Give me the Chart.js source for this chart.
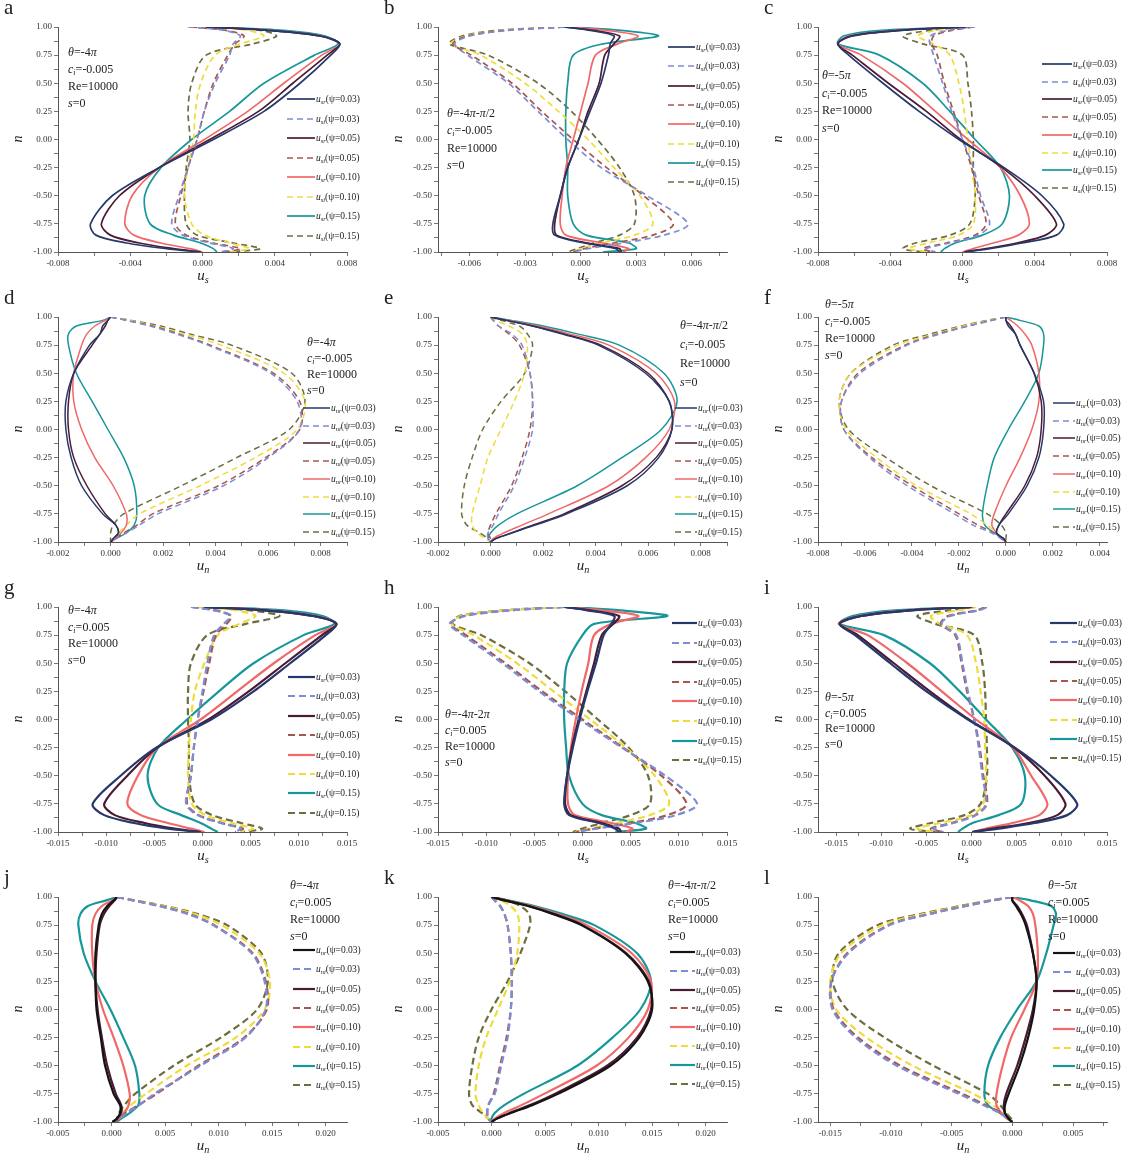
<!DOCTYPE html>
<html>
<head>
<meta charset="utf-8">
<script src="https://cdn.jsdelivr.net/npm/chart.js@4.4.1/dist/chart.umd.min.js"></script>
<style>
body { margin: 0; width: 1140px; height: 1153px; background: #fff; position: relative; overflow: hidden;
       font-family: "Liberation Serif", "Times New Roman", serif; color: #222; }
.cell { position: absolute; width: 380px; height: 290px; }
.cell canvas { position: absolute; left: 0; top: 0; }
.tag { position: absolute; font-size: 21px; line-height: 1; }
.note { position: absolute; font-size: 12px; line-height: 1; white-space: nowrap; }
.leg { position: absolute; font-size: 9.5px; line-height: 12px; height: 12px; white-space: nowrap; display: flex; align-items: center; }
.leg svg { display: block; margin-right: 1px; }
.xt { position: absolute; font-size: 15px; line-height: 1; transform: translate(-50%, -50%); white-space: nowrap; }
.yt { position: absolute; font-size: 14px; line-height: 1; transform: translate(-50%, -50%) rotate(-90deg); }
sub { font-size: 68%; vertical-align: -0.3em; line-height: 0; font-style: italic; }
</style>
</head>
<body>
<script>
// shared wall-normal coordinate n (y axis) for every profile
const nLevels = [1, 0.97, 0.92, 0.85, 0.75, 0.5, 0.25, 0, -0.25, -0.5, -0.75, -0.85, -0.92, -0.97, -1];
const psiLabels = ['0.03', '0.05', '0.10', '0.15'];

// a: u_s, theta=-4pi, ci=-0.005
const aR03 = [0.0002, 0.0036, 0.0065, 0.0076, 0.0071, 0.0054, 0.0034, 0.0006, -0.0024, -0.0050, -0.0062, -0.0059, -0.0042, -0.0020, -0.0001];
const aI03 = [-0.0008, 0.0012, 0.0021, 0.0017, 0.0015, 0.0007, 0.0001, -0.0003, -0.0008, -0.0013, -0.0017, -0.0011, 0.0004, 0.0017, 0.0010];
const aR05 = [0.0002, 0.0036, 0.0065, 0.0076, 0.0069, 0.0050, 0.0031, 0.0004, -0.0024, -0.0046, -0.0056, -0.0051, -0.0035, -0.0016, -0.0001];
const aI05 = [-0.0006, 0.0013, 0.0023, 0.0018, 0.0014, 0.0006, 0.0001, -0.0003, -0.0008, -0.0012, -0.0015, -0.0009, 0.0006, 0.0021, 0.0012];
const aR10 = [0.0003, 0.0038, 0.0066, 0.0076, 0.0066, 0.0045, 0.0025, 0.0001, -0.0024, -0.0039, -0.0043, -0.0038, -0.0023, -0.0007, 0.0000];
const aI10 = [-0.0001, 0.0025, 0.0034, 0.0021, 0.0007, -0.0001, -0.0004, -0.0005, -0.0008, -0.0010, -0.0006, 0.0001, 0.0015, 0.0026, 0.0013];
const aR15 = [0.0006, 0.0045, 0.0068, 0.0075, 0.0062, 0.0034, 0.0015, -0.0006, -0.0023, -0.0032, -0.0029, -0.0016, -0.0001, 0.0006, 0.0008];
const aI15 = [0.0002, 0.0032, 0.0041, 0.0028, 0.0002, -0.0006, -0.0008, -0.0007, -0.0009, -0.0010, -0.0009, -0.0003, 0.0017, 0.0032, 0.0015];

// b: u_s, theta=-4pi-pi/2, ci=-0.005
const bR03 = [-0.0009, 0.0005, 0.0018, 0.0016, 0.0015, 0.0011, 0.0005, -0.0001, -0.0007, -0.0011, -0.0015, -0.0014, 0.0002, 0.0019, 0.0021];
const bI03 = [-0.0009, -0.0039, -0.0060, -0.0068, -0.0061, -0.0039, -0.0023, -0.0007, 0.0011, 0.0036, 0.0058, 0.0045, 0.0023, 0.0004, -0.0004];
const bR05 = [-0.0008, 0.0007, 0.0021, 0.0018, 0.0013, 0.0010, 0.0004, -0.0001, -0.0007, -0.0011, -0.0014, -0.0013, 0.0004, 0.0021, 0.0022];
const bI05 = [-0.0009, -0.0040, -0.0061, -0.0069, -0.0059, -0.0037, -0.0021, -0.0004, 0.0014, 0.0034, 0.0050, 0.0039, 0.0018, 0.0002, -0.0004];
const bR10 = [-0.0007, 0.0014, 0.0031, 0.0020, 0.0008, 0.0004, 0.0000, -0.0004, -0.0008, -0.0010, -0.0011, -0.0008, 0.0012, 0.0026, 0.0023];
const bI10 = [-0.0009, -0.0042, -0.0062, -0.0070, -0.0054, -0.0030, -0.0012, 0.0004, 0.0018, 0.0032, 0.0039, 0.0029, 0.0011, 0.0000, -0.0004];
const bR15 = [-0.0006, 0.0022, 0.0042, 0.0012, -0.0004, -0.0007, -0.0008, -0.0008, -0.0007, -0.0007, -0.0004, 0.0003, 0.0026, 0.0030, 0.0012];
const bI15 = [-0.0009, -0.0045, -0.0064, -0.0071, -0.0050, -0.0023, -0.0005, 0.0009, 0.0021, 0.0029, 0.0029, 0.0021, 0.0007, -0.0002, -0.0007];

// c: u_s, theta=-5pi, ci=-0.005
const cR03 = [0.0002, -0.0035, -0.0062, -0.0069, -0.0063, -0.0044, -0.0024, -0.0002, 0.0023, 0.0044, 0.0056, 0.0052, 0.0033, 0.0015, 0.0002];
const cI03 = [0.0007, -0.0008, -0.0018, -0.0018, -0.0016, -0.0011, -0.0006, 0.0000, 0.0006, 0.0010, 0.0015, 0.0009, -0.0007, -0.0020, -0.0015];
const cR05 = [0.0001, -0.0034, -0.0061, -0.0069, -0.0061, -0.0041, -0.0020, -0.0001, 0.0022, 0.0040, 0.0052, 0.0046, 0.0030, 0.0013, 0.0001];
const cI05 = [0.0006, -0.0006, -0.0016, -0.0017, -0.0014, -0.0010, -0.0005, 0.0000, 0.0005, 0.0009, 0.0013, 0.0007, -0.0009, -0.0022, -0.0017];
const cR10 = [0.0002, -0.0036, -0.0063, -0.0069, -0.0056, -0.0033, -0.0015, 0.0003, 0.0021, 0.0032, 0.0037, 0.0031, 0.0017, 0.0006, 0.0000];
const cI10 = [0.0006, -0.0014, -0.0025, -0.0016, -0.0007, -0.0002, 0.0001, 0.0003, 0.0005, 0.0007, 0.0006, -0.0002, -0.0019, -0.0030, -0.0018];
const cR15 = [0.0004, -0.0045, -0.0066, -0.0069, -0.0046, -0.0022, -0.0007, 0.0007, 0.0021, 0.0026, 0.0022, 0.0011, -0.0004, -0.0010, -0.0012];
const cI15 = [0.0005, -0.0018, -0.0033, -0.0022, 0.0000, 0.0003, 0.0005, 0.0006, 0.0006, 0.0007, 0.0004, -0.0007, -0.0026, -0.0033, -0.0022];

// d: u_n, theta=-4pi, ci=-0.005
const dR03 = [0, -0.0001, -0.0003, -0.0004, -0.0008, -0.0014, -0.0017, -0.0017, -0.0015, -0.0011, -0.0003, 0.0002, 0.0003, 0.0001, 0];
const dI03 = [0, 0.0006, 0.0015, 0.0025, 0.0037, 0.0061, 0.0071, 0.0072, 0.0060, 0.0043, 0.0018, 0.0011, 0.0006, 0.0002, 0];
const dR05 = [0, -0.0001, -0.0002, -0.0004, -0.0007, -0.0014, -0.0016, -0.0016, -0.0014, -0.0009, -0.0002, 0.0002, 0.0003, 0.0001, 0];
const dI05 = [0, 0.0006, 0.0016, 0.0026, 0.0038, 0.0062, 0.0072, 0.0072, 0.0059, 0.0041, 0.0016, 0.0010, 0.0005, 0.0002, 0];
const dR10 = [0, -0.0002, -0.0006, -0.0009, -0.0011, -0.0014, -0.0014, -0.0011, -0.0006, 0.0001, 0.0006, 0.0006, 0.0004, 0.0002, 0];
const dI10 = [0, 0.0007, 0.0017, 0.0028, 0.0042, 0.0066, 0.0074, 0.0071, 0.0055, 0.0034, 0.0011, 0.0006, 0.0003, 0.0001, 0];
const dR15 = [0, -0.0003, -0.0013, -0.0016, -0.0016, -0.0013, -0.0007, -0.0001, 0.0005, 0.0009, 0.0010, 0.0009, 0.0006, 0.0002, 0];
const dI15 = [0, 0.0008, 0.0019, 0.0030, 0.0046, 0.0069, 0.0074, 0.0068, 0.0048, 0.0027, 0.0005, 0.0001, 0.0000, 0.0000, 0];

// e: u_n, theta=-4pi-pi/2, ci=-0.005
const eR03 = [0, 0.0006, 0.0016, 0.0027, 0.0041, 0.0059, 0.0068, 0.0069, 0.0064, 0.0052, 0.0029, 0.0017, 0.0008, 0.0002, 0];
const eI03 = [0, 0.0001, 0.0003, 0.0008, 0.0012, 0.0015, 0.0016, 0.0016, 0.0013, 0.0009, 0.0003, 0.0001, -0.0001, -0.0001, 0];
const eR05 = [0, 0.0006, 0.0016, 0.0028, 0.0042, 0.0060, 0.0068, 0.0069, 0.0063, 0.0050, 0.0028, 0.0016, 0.0008, 0.0002, 0];
const eI05 = [0, 0.0001, 0.0003, 0.0007, 0.0011, 0.0015, 0.0016, 0.0015, 0.0012, 0.0008, 0.0002, 0.0000, -0.0001, 0.0000, 0];
const eR10 = [0, 0.0007, 0.0018, 0.0030, 0.0045, 0.0063, 0.0070, 0.0068, 0.0059, 0.0045, 0.0022, 0.0012, 0.0005, 0.0001, 0];
const eI10 = [0, 0.0002, 0.0007, 0.0012, 0.0014, 0.0013, 0.0009, 0.0004, -0.0001, -0.0004, -0.0007, -0.0007, -0.0005, -0.0002, 0];
const eR15 = [0, 0.0008, 0.0020, 0.0033, 0.0049, 0.0066, 0.0071, 0.0065, 0.0050, 0.0033, 0.0010, 0.0003, 0.0000, -0.0001, 0];
const eI15 = [0, 0.0004, 0.0011, 0.0014, 0.0016, 0.0013, 0.0004, -0.0003, -0.0007, -0.0010, -0.0011, -0.0009, -0.0004, -0.0001, 0];

// f: u_n, theta=-5pi, ci=-0.005
const fR03 = [0, 0.0000, 0.0001, 0.0004, 0.0006, 0.0012, 0.0016, 0.0016, 0.0014, 0.0009, 0.0001, -0.0003, -0.0004, -0.0001, 0];
const fI03 = [0, -0.0006, -0.0016, -0.0028, -0.0042, -0.0062, -0.0070, -0.0069, -0.0058, -0.0042, -0.0022, -0.0014, -0.0006, -0.0002, 0];
const fR05 = [0, 0.0000, 0.0002, 0.0004, 0.0006, 0.0012, 0.0015, 0.0015, 0.0013, 0.0008, 0.0000, -0.0003, -0.0004, -0.0001, 0];
const fI05 = [0, -0.0006, -0.0016, -0.0029, -0.0043, -0.0063, -0.0070, -0.0069, -0.0057, -0.0040, -0.0020, -0.0012, -0.0005, -0.0002, 0];
const fR10 = [0, 0.0002, 0.0005, 0.0008, 0.0011, 0.0014, 0.0014, 0.0011, 0.0006, 0.0000, -0.0005, -0.0006, -0.0004, -0.0002, 0];
const fI10 = [0, -0.0007, -0.0018, -0.0030, -0.0046, -0.0066, -0.0071, -0.0068, -0.0055, -0.0038, -0.0015, -0.0008, -0.0004, -0.0001, 0];
const fR15 = [0, 0.0006, 0.0014, 0.0016, 0.0016, 0.0014, 0.0008, 0.0001, -0.0005, -0.0008, -0.0010, -0.0009, -0.0005, -0.0001, 0];
const fI15 = [0, -0.0008, -0.0019, -0.0032, -0.0048, -0.0066, -0.0071, -0.0067, -0.0051, -0.0032, -0.0008, -0.0002, 0.0000, 0.0000, 0];

// g: u_s, theta=-4pi, ci=0.005
const gR03 = [0.0002, 0.0065, 0.0115, 0.0139, 0.0128, 0.0091, 0.0053, 0.0009, -0.0048, -0.0085, -0.0114, -0.0102, -0.0071, -0.0036, -0.0002];
const gI03 = [-0.0012, 0.0012, 0.0029, 0.0022, 0.0012, 0.0005, 0.0000, -0.0005, -0.0009, -0.0012, -0.0017, -0.0005, 0.0019, 0.0040, 0.0033];
const gR05 = [0.0002, 0.0065, 0.0115, 0.0139, 0.0124, 0.0086, 0.0048, 0.0006, -0.0047, -0.0078, -0.0102, -0.0091, -0.0060, -0.0029, -0.0002];
const gI05 = [-0.0011, 0.0014, 0.0030, 0.0025, 0.0014, 0.0007, 0.0001, -0.0005, -0.0009, -0.0012, -0.0016, -0.0004, 0.0020, 0.0042, 0.0034];
const gR10 = [0.0004, 0.0070, 0.0118, 0.0139, 0.0117, 0.0074, 0.0036, -0.0002, -0.0047, -0.0067, -0.0078, -0.0064, -0.0036, -0.0012, 0.0002];
const gI10 = [-0.0005, 0.0035, 0.0055, 0.0038, 0.0016, 0.0002, -0.0008, -0.0012, -0.0014, -0.0015, -0.0011, 0.0003, 0.0030, 0.0052, 0.0040];
const gR15 = [0.0012, 0.0085, 0.0125, 0.0137, 0.0105, 0.0053, 0.0017, -0.0016, -0.0046, -0.0057, -0.0047, -0.0022, -0.0002, 0.0009, 0.0016];
const gI15 = [0.0000, 0.0050, 0.0080, 0.0045, 0.0005, -0.0012, -0.0015, -0.0015, -0.0014, -0.0014, -0.0008, 0.0010, 0.0040, 0.0062, 0.0042];

// h: u_s, theta=-4pi-2pi, ci=0.005
const hR03 = [-0.0019, 0.0005, 0.0033, 0.0030, 0.0022, 0.0014, 0.0005, -0.0003, -0.0010, -0.0016, -0.0019, -0.0014, 0.0017, 0.0034, 0.0038];
const hI03 = [-0.0019, -0.0075, -0.0122, -0.0138, -0.0124, -0.0083, -0.0045, -0.0003, 0.0041, 0.0086, 0.0119, 0.0097, 0.0055, 0.0014, -0.0007];
const hR05 = [-0.0018, 0.0008, 0.0038, 0.0032, 0.0020, 0.0012, 0.0004, -0.0004, -0.0011, -0.0016, -0.0018, -0.0012, 0.0020, 0.0038, 0.0040];
const hI05 = [-0.0019, -0.0076, -0.0123, -0.0137, -0.0121, -0.0080, -0.0042, 0.0000, 0.0042, 0.0082, 0.0108, 0.0088, 0.0050, 0.0012, -0.0007];
const hR10 = [-0.0016, 0.0020, 0.0058, 0.0030, 0.0012, 0.0006, -0.0001, -0.0007, -0.0012, -0.0015, -0.0015, -0.0008, 0.0030, 0.0052, 0.0045];
const hI10 = [-0.0022, -0.0080, -0.0126, -0.0136, -0.0113, -0.0068, -0.0030, 0.0008, 0.0045, 0.0075, 0.0090, 0.0070, 0.0035, 0.0008, -0.0008];
const hR15 = [-0.0014, 0.0040, 0.0088, 0.0012, 0.0000, -0.0016, -0.0019, -0.0019, -0.0017, -0.0014, 0.0000, 0.0020, 0.0055, 0.0066, 0.0034];
const hI15 = [-0.0022, -0.0082, -0.0128, -0.0135, -0.0105, -0.0055, -0.0018, 0.0016, 0.0048, 0.0068, 0.0070, 0.0050, 0.0020, 0.0000, -0.0010];

// i: u_s, theta=-5pi, ci=0.005
const iR03 = [0.0000, -0.0068, -0.0122, -0.0146, -0.0129, -0.0090, -0.0050, -0.0004, 0.0048, 0.0088, 0.0117, 0.0106, 0.0070, 0.0030, 0.0001];
const iI03 = [0.0017, 0.0008, -0.0024, -0.0033, -0.0017, -0.0010, -0.0004, 0.0003, 0.0008, 0.0012, 0.0016, 0.0005, -0.0020, -0.0042, -0.0031];
const iR05 = [0.0000, -0.0068, -0.0122, -0.0146, -0.0126, -0.0086, -0.0046, -0.0003, 0.0047, 0.0081, 0.0104, 0.0095, 0.0063, 0.0023, 0.0001];
const iI05 = [0.0015, 0.0006, -0.0026, -0.0034, -0.0018, -0.0011, -0.0005, 0.0003, 0.0009, 0.0013, 0.0017, 0.0004, -0.0022, -0.0045, -0.0033];
const iR10 = [0.0002, -0.0072, -0.0125, -0.0147, -0.0115, -0.0071, -0.0033, 0.0005, 0.0046, 0.0066, 0.0084, 0.0075, 0.0045, 0.0016, 0.0001];
const iI10 = [0.0005, -0.0015, -0.0045, -0.0035, -0.0005, 0.0005, 0.0010, 0.0014, 0.0015, 0.0016, 0.0013, 0.0000, -0.0035, -0.0060, -0.0040];
const iR15 = [0.0005, -0.0085, -0.0132, -0.0146, -0.0097, -0.0046, -0.0013, 0.0016, 0.0045, 0.0059, 0.0055, 0.0030, 0.0001, -0.0010, -0.0015];
const iI15 = [0.0002, -0.0025, -0.0060, -0.0040, 0.0003, 0.0012, 0.0015, 0.0016, 0.0017, 0.0017, 0.0010, -0.0008, -0.0045, -0.0068, -0.0040];

// j: u_n, theta=-4pi, ci=0.005
const jR03 = [0.0005, 0.0002, -0.0004, -0.0009, -0.0012, -0.0015, -0.0015, -0.0014, -0.0010, -0.0006, 0.0002, 0.0008, 0.0008, 0.0005, 0.0001];
const jI03 = [0.0005, 0.0020, 0.0044, 0.0071, 0.0095, 0.0131, 0.0143, 0.0144, 0.0125, 0.0083, 0.0040, 0.0026, 0.0014, 0.0008, 0.0005];
const jR05 = [0.0005, 0.0003, -0.0002, -0.0007, -0.0011, -0.0014, -0.0015, -0.0013, -0.0009, -0.0004, 0.0004, 0.0009, 0.0009, 0.0005, 0.0001];
const jI05 = [0.0005, 0.0020, 0.0045, 0.0072, 0.0096, 0.0132, 0.0144, 0.0145, 0.0124, 0.0081, 0.0042, 0.0025, 0.0013, 0.0007, 0.0005];
const jR10 = [0.0005, 0.0001, -0.0009, -0.0015, -0.0018, -0.0018, -0.0015, -0.0008, 0.0002, 0.0011, 0.0017, 0.0016, 0.0012, 0.0007, 0.0003];
const jI10 = [0.0005, 0.0021, 0.0048, 0.0077, 0.0103, 0.0138, 0.0148, 0.0143, 0.0116, 0.0070, 0.0032, 0.0018, 0.0010, 0.0006, 0.0005];
const jR15 = [0.0005, -0.0005, -0.0022, -0.0029, -0.0031, -0.0026, -0.0015, -0.0001, 0.0011, 0.0022, 0.0026, 0.0025, 0.0017, 0.0009, 0.0005];
const jI15 = [0.0005, 0.0022, 0.0050, 0.0080, 0.0108, 0.0140, 0.0146, 0.0136, 0.0102, 0.0058, 0.0022, 0.0012, 0.0007, 0.0005, 0.0005];

// k: u_n, theta=-4pi-pi/2, ci=0.005
const kR03 = [0, 0.0012, 0.0034, 0.0057, 0.0084, 0.0125, 0.0146, 0.0150, 0.0138, 0.0111, 0.0062, 0.0038, 0.0018, 0.0005, 0];
const kI03 = [0, 0.0003, 0.0008, 0.0012, 0.0015, 0.0018, 0.0019, 0.0018, 0.0015, 0.0009, 0.0003, -0.0003, -0.0004, -0.0003, 0];
const kR05 = [0, 0.0013, 0.0035, 0.0058, 0.0085, 0.0126, 0.0147, 0.0149, 0.0136, 0.0108, 0.0059, 0.0036, 0.0017, 0.0005, 0];
const kI05 = [0, 0.0003, 0.0008, 0.0012, 0.0015, 0.0018, 0.0019, 0.0018, 0.0014, 0.0008, 0.0002, -0.0003, -0.0004, -0.0003, 0];
const kR10 = [0, 0.0014, 0.0037, 0.0061, 0.0089, 0.0131, 0.0149, 0.0146, 0.0128, 0.0098, 0.0049, 0.0028, 0.0012, 0.0003, 0];
const kI10 = [0, 0.0009, 0.0018, 0.0024, 0.0026, 0.0024, 0.0017, 0.0006, -0.0005, -0.0012, -0.0015, -0.0012, -0.0008, -0.0003, 0];
const kR15 = [0, 0.0016, 0.0040, 0.0066, 0.0096, 0.0136, 0.0149, 0.0139, 0.0113, 0.0080, 0.0030, 0.0012, 0.0003, 0.0000, 0];
const kI15 = [0, 0.0014, 0.0027, 0.0035, 0.0036, 0.0027, 0.0015, 0.0000, -0.0012, -0.0018, -0.0021, -0.0018, -0.0009, -0.0003, 0];

// l: u_n, theta=-5pi, ci=0.005
const lR03 = [0, 0.0000, 0.0003, 0.0007, 0.0011, 0.0017, 0.0020, 0.0018, 0.0013, 0.0006, -0.0003, -0.0006, -0.0006, -0.0003, 0];
const lI03 = [0, -0.0016, -0.0038, -0.0067, -0.0101, -0.0135, -0.0149, -0.0148, -0.0129, -0.0095, -0.0044, -0.0024, -0.0010, -0.0003, 0];
const lR05 = [0, 0.0000, 0.0004, 0.0008, 0.0012, 0.0017, 0.0020, 0.0017, 0.0011, 0.0004, -0.0005, -0.0007, -0.0006, -0.0003, 0];
const lI05 = [0, -0.0016, -0.0039, -0.0068, -0.0102, -0.0136, -0.0149, -0.0147, -0.0127, -0.0092, -0.0041, -0.0022, -0.0009, -0.0003, 0];
const lR10 = [0, 0.0006, 0.0013, 0.0017, 0.0019, 0.0021, 0.0020, 0.0010, -0.0001, -0.0008, -0.0013, -0.0013, -0.0009, -0.0004, 0];
const lI10 = [0, -0.0017, -0.0041, -0.0072, -0.0107, -0.0141, -0.0150, -0.0145, -0.0120, -0.0082, -0.0032, -0.0016, -0.0007, -0.0002, 0];
const lR15 = [0, 0.0015, 0.0032, 0.0036, 0.0034, 0.0028, 0.0020, 0.0004, -0.0010, -0.0020, -0.0023, -0.0020, -0.0010, -0.0004, 0];
const lI15 = [0, -0.0018, -0.0043, -0.0075, -0.0111, -0.0143, -0.0148, -0.0136, -0.0105, -0.0065, -0.0020, -0.0010, -0.0005, -0.0001, 0];

const FONT = '"Liberation Serif", "Times New Roman", serif';
const realColors = ['#26386b', '#4b1a33', '#f06868', '#17979a'];
const imagColors = ['#7d8cd4', '#a5574d', '#efdc3a', '#6d6e40'];

const panels = [
  { tag: 'a', col: 0, row: 0, comp: 's', x: [-0.008, 0.008], major: 0.004, minor: 0.002, theta: '-4<i>π</i>', ci: '-0.005',
    real: [aR03, aR05, aR10, aR15], imag: [aI03, aI05, aI10, aI15], note: [68, 52, 17], leg: [287, 315, 99, 19.5] },
  { tag: 'b', col: 1, row: 0, comp: 's', x: [-0.0077, 0.0079], major: 0.003, minor: 0.0015, theta: '-4<i>π</i>-<i>π</i>/2', ci: '-0.005',
    real: [bR03, bR05, bR10, bR15], imag: [bI03, bI05, bI10, bI15], note: [67, 113, 17.3], leg: [288, 315, 47, 19.3] },
  { tag: 'c', col: 2, row: 0, comp: 's', x: [-0.008, 0.008], major: 0.004, minor: 0.002, theta: '-5<i>π</i>', ci: '-0.005',
    real: [cR03, cR05, cR10, cR15], imag: [cI03, cI05, cI10, cI15], note: [62, 75, 17.7], leg: [282, 312, 64, 17.7] },
  { tag: 'd', col: 0, row: 1, comp: 'n', x: [-0.002, 0.009], major: 0.002, minor: 0.001, theta: '-4<i>π</i>', ci: '-0.005',
    real: [dR03, dR05, dR10, dR15], imag: [dI03, dI05, dI10, dI15], note: [307, 52, 16], leg: [303, 330, 118, 17.7] },
  { tag: 'e', col: 1, row: 1, comp: 'n', x: [-0.002, 0.009], major: 0.002, minor: 0.001, theta: '-4<i>π</i>-<i>π</i>/2', ci: '-0.005',
    real: [eR03, eR05, eR10, eR15], imag: [eI03, eI05, eI10, eI15], note: [300, 35, 19], leg: [295, 317, 118, 17.7] },
  { tag: 'f', col: 2, row: 1, comp: 'n', x: [-0.008, 0.0043], major: 0.002, minor: 0.001, theta: '-5<i>π</i>', ci: '-0.005',
    real: [fR03, fR05, fR10, fR15], imag: [fI03, fI05, fI10, fI15], note: [65, 14, 17], leg: [293, 315, 113, 17.7] },
  { tag: 'g', col: 0, row: 2, comp: 's', x: [-0.015, 0.015], major: 0.005, minor: 0.0025, theta: '-4<i>π</i>', ci: '0.005',
    real: [gR03, gR05, gR10, gR15], imag: [gI03, gI05, gI10, gI15], note: [68, 30, 16.7], leg: [288, 315, 97, 19.4] },
  { tag: 'h', col: 1, row: 2, comp: 's', x: [-0.015, 0.015], major: 0.005, minor: 0.0025, theta: '-4<i>π</i>-2<i>π</i>', ci: '0.005',
    real: [hR03, hR05, hR10, hR15], imag: [hI03, hI05, hI10, hI15], note: [65, 134, 16], leg: [292, 317, 43, 19.6] },
  { tag: 'i', col: 2, row: 2, comp: 's', x: [-0.017, 0.015], major: 0.005, minor: 0.0025, theta: '-5<i>π</i>', ci: '0.005',
    real: [iR03, iR05, iR10, iR15], imag: [iI03, iI05, iI10, iI15], note: [65, 117, 15.7], leg: [290, 317, 43, 19.3] },
  { tag: 'j', col: 0, row: 3, comp: 'n', x: [-0.005, 0.022], major: 0.005, minor: 0.0025, theta: '-4<i>π</i>', ci: '0.005',
    real: [jR03, jR05, jR10, jR15], imag: [jI03, jI05, jI10, jI15], note: [290, 15, 17], leg: [293, 315, 80, 19.3] },
  { tag: 'k', col: 1, row: 3, comp: 'n', x: [-0.005, 0.022], major: 0.005, minor: 0.0025, theta: '-4<i>π</i>-<i>π</i>/2', ci: '0.005',
    real: [kR03, kR05, kR10, kR15], imag: [kI03, kI05, kI10, kI15], note: [288, 15, 17], leg: [290, 315, 82, 18.8] },
  { tag: 'l', col: 2, row: 3, comp: 'n', x: [-0.016, 0.0078], major: 0.005, minor: 0.0025, theta: '-5<i>π</i>', ci: '0.005',
    real: [lR03, lR05, lR10, lR15], imag: [lI03, lI05, lI10, lI15], note: [288, 15, 17], leg: [293, 315, 83, 18.9] }
];

function buildTicks(min, max, step) {
  const out = [];
  const first = Math.ceil((min - 1e-9) / step);
  const last = Math.floor((max + 1e-9) / step);
  for (let k = first; k <= last; k++) out.push({ value: +(k * step).toFixed(6) });
  return out;
}

function isMajor(v, major) {
  const r = v / major;
  return Math.abs(r - Math.round(r)) < 1e-6;
}

function axis(min, max, major, minor, digits, fit) {
  return {
    type: 'linear', min, max,
    afterFit: fit,
    afterBuildTicks: s => { s.ticks = buildTicks(min, max, minor); },
    grid: { drawOnChartArea: false, tickLength: 4, color: '#555', lineWidth: 0.8 },
    border: { color: '#555', width: 1 },
    ticks: {
      autoSkip: false, maxRotation: 0, padding: 2, color: '#333',
      font: { family: FONT, size: 9 },
      callback: v => isMajor(v, major) ? v.toFixed(digits) : ''
    }
  };
}

function addDiv(parent, cls, left, top, html) {
  const d = document.createElement('div');
  d.className = cls;
  d.style.left = left + 'px';
  d.style.top = top + 'px';
  d.innerHTML = html;
  parent.appendChild(d);
  return d;
}

panels.forEach(p => {
  const cell = document.createElement('div');
  cell.className = 'cell';
  cell.style.left = (p.col * 380) + 'px';
  cell.style.top = (p.row * 290) + 'px';
  document.body.appendChild(cell);

  const canvas = document.createElement('canvas');
  canvas.width = 380;
  canvas.height = 290;
  cell.appendChild(canvas);

  const thick = p.row >= 2;
  const lw = thick ? 2.2 : (p.row === 0 ? 1.7 : 1.5);
  const dash = thick ? [7, 4] : [6, 4];
  const dark = p.row === 3;

  const datasets = [];
  psiLabels.forEach((psi, k) => {
    const solidColor = (dark && k === 0) ? '#141414' : realColors[k];
    datasets.push({
      label: `u_${p.comp}r(ψ=${psi})`, sub: p.comp + 'r', psi,
      data: p.real[k].map((x, i) => ({ x, y: nLevels[i] })),
      borderColor: solidColor, borderWidth: lw, borderDash: []
    });
    datasets.push({
      label: `u_${p.comp}i(ψ=${psi})`, sub: p.comp + 'i', psi,
      data: p.imag[k].map((x, i) => ({ x, y: nLevels[i] })),
      borderColor: imagColors[k], borderWidth: lw, borderDash: dash
    });
  });
  datasets.forEach(d => Object.assign(d, { showLine: true, pointRadius: 0, tension: 0.3, fill: false }));

  new Chart(canvas.getContext('2d'), {
    type: 'scatter',
    data: { datasets },
    options: {
      responsive: false,
      animation: false,
      events: [],
      layout: { padding: { top: 27, right: 33, left: 0, bottom: 0 } },
      plugins: { legend: { display: false }, tooltip: { enabled: false } },
      scales: {
        x: axis(p.x[0], p.x[1], p.major, p.minor, 3, s => { s.height = 38; }),
        y: axis(-1, 1, 0.25, 0.125, 2, s => { s.width = 58; })
      }
    }
  });

  // panel letter and axis titles
  addDiv(cell, 'tag', 4, -3, p.tag);
  addDiv(cell, 'yt', 18, 139, '<i>n</i>');
  addDiv(cell, 'xt', 203, 275, `<i>u</i><sub>${p.comp}</sub>`);

  // parameter block
  const [nx, ny, ndy] = p.note;
  const lines = [
    `<i>θ</i>=${p.theta}`,
    `<i>c</i><sub>i</sub>=${p.ci}`,
    'Re=10000',
    '<i>s</i>=0'
  ];
  lines.forEach((t, i) => addDiv(cell, 'note', nx, ny + i * ndy - 6, t));

  // legend built from the dataset styles
  const [lx0, lx1, ly0, ldy] = p.leg;
  const w = lx1 - lx0;
  datasets.forEach((d, i) => {
    const dashAttr = d.borderDash.length ? `stroke-dasharray="${d.borderDash.join(' ')}"` : '';
    const html = `<svg width="${w}" height="12"><line x1="0" y1="6" x2="${w}" y2="6" stroke="${d.borderColor}" stroke-width="${d.borderWidth}" ${dashAttr}/></svg>` +
      `<span><i>u</i><sub>${d.sub}</sub>(ψ=${d.psi})</span>`;
    addDiv(cell, 'leg', lx0, ly0 + i * ldy - 6, html);
  });
});
</script>
</body>
</html>
